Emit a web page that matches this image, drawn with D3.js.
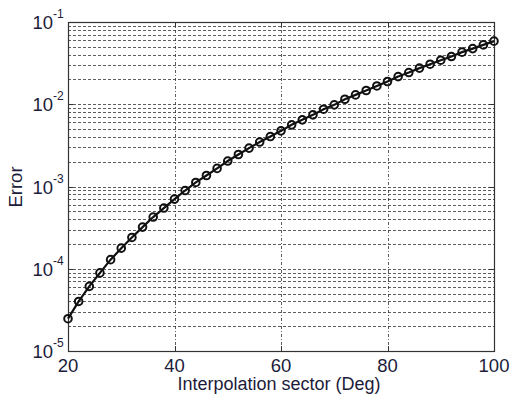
<!DOCTYPE html>
<html>
<head>
<meta charset="utf-8">
<script src="https://cdn.jsdelivr.net/npm/d3@7"></script>
<style>
  body { margin: 0; background: #fff; }
  text { font-family: "Liberation Sans", Arial, sans-serif; fill: #1c1c3a; }
</style>
</head>
<body>
<script>
// angle of the interpolation sector (deg)
var sector = [20, 22, 24, 26, 28, 30, 32, 34, 36, 38, 40, 42, 44, 46, 48, 50, 52, 54, 56, 58, 60,
              62, 64, 66, 68, 70, 72, 74, 76, 78, 80, 82, 84, 86, 88, 90, 92, 94, 96, 98, 100];
// error
var error = [2.47e-5, 4.0e-5, 6.1e-5, 8.9e-5, 1.29e-4, 1.78e-4, 2.40e-4, 3.21e-4, 4.25e-4, 5.47e-4, 7.03e-4,
             8.94e-4, 1.12e-3, 1.36e-3, 1.66e-3, 2.04e-3, 2.45e-3, 2.93e-3, 3.47e-3, 4.05e-3, 4.75e-3,
             5.62e-3, 6.46e-3, 7.43e-3, 8.71e-3, 9.83e-3, 1.15e-2, 1.30e-2, 1.47e-2, 1.67e-2, 1.89e-2,
             2.17e-2, 2.43e-2, 2.75e-2, 3.07e-2, 3.43e-2, 3.80e-2, 4.30e-2, 4.75e-2, 5.27e-2, 5.85e-2];
var xTicks = [20, 40, 60, 80, 100];
var yExps = [-5, -4, -3, -2, -1];

var width = 511, height = 396;
var pLeft = 68, pRight = 494, pTop = 22, pBottom = 351;

var svg = d3.select("body").append("svg")
    .attr("width", width)
    .attr("height", height);

var x = d3.scaleLinear().domain([20, 100]).range([pLeft, pRight]);
var y = d3.scaleLog().domain([1e-5, 1e-1]).range([pBottom, pTop]);

// horizontal grid on every 1..9 x 10^k
var gridY = [];
for (var e = -5; e <= -2; e++) {
    for (var m = 1; m <= 9; m++) {
        var v = m * Math.pow(10, e);
        if (v > 1.01e-5) gridY.push(v);
    }
}

svg.append("g").selectAll("line")
    .data(gridY)
    .enter().append("line")
    .attr("x1", pLeft).attr("x2", pRight)
    .attr("y1", function(d) { return Math.round(y(d)) + 0.5; })
    .attr("y2", function(d) { return Math.round(y(d)) + 0.5; })
    .attr("stroke", "#333")
    .attr("stroke-width", 0.8)
    .attr("stroke-dasharray", "3,2");

svg.append("g").selectAll("line")
    .data([40, 60, 80])
    .enter().append("line")
    .attr("y1", pTop).attr("y2", pBottom)
    .attr("x1", function(d) { return Math.round(x(d)) + 0.5; })
    .attr("x2", function(d) { return Math.round(x(d)) + 0.5; })
    .attr("stroke", "#333")
    .attr("stroke-width", 0.8)
    .attr("stroke-dasharray", "3,2,1,2");

// frame
svg.append("rect")
    .attr("x", pLeft + 0.5).attr("y", pTop + 0.5)
    .attr("width", pRight - pLeft).attr("height", pBottom - pTop)
    .attr("fill", "none")
    .attr("stroke", "#333")
    .attr("stroke-width", 1.2);

// ticks inside on all sides
var tk = 5;
svg.append("g").selectAll("line")
    .data(yExps)
    .enter().append("line")
    .attr("x1", pLeft).attr("x2", pLeft + tk)
    .attr("y1", function(d) { return Math.round(y(Math.pow(10, d))) + 0.5; })
    .attr("y2", function(d) { return Math.round(y(Math.pow(10, d))) + 0.5; })
    .attr("stroke", "#333");
svg.append("g").selectAll("line")
    .data(yExps)
    .enter().append("line")
    .attr("x1", pRight - tk).attr("x2", pRight)
    .attr("y1", function(d) { return Math.round(y(Math.pow(10, d))) + 0.5; })
    .attr("y2", function(d) { return Math.round(y(Math.pow(10, d))) + 0.5; })
    .attr("stroke", "#333");
svg.append("g").selectAll("line")
    .data(xTicks)
    .enter().append("line")
    .attr("x1", function(d) { return Math.round(x(d)) + 0.5; })
    .attr("x2", function(d) { return Math.round(x(d)) + 0.5; })
    .attr("y1", pBottom - tk).attr("y2", pBottom)
    .attr("stroke", "#333");
svg.append("g").selectAll("line")
    .data(xTicks)
    .enter().append("line")
    .attr("x1", function(d) { return Math.round(x(d)) + 0.5; })
    .attr("x2", function(d) { return Math.round(x(d)) + 0.5; })
    .attr("y1", pTop).attr("y2", pTop + tk)
    .attr("stroke", "#333");

// tick labels
svg.append("g").selectAll("text")
    .data(xTicks)
    .enter().append("text")
    .attr("x", function(d) { return x(d); })
    .attr("y", 372)
    .attr("text-anchor", "middle")
    .attr("font-size", 18.5)
    .text(function(d) { return d; });

var yl = svg.append("g").selectAll("g")
    .data(yExps)
    .enter().append("g")
    .attr("transform", function(d) { return "translate(53," + (y(Math.pow(10, d)) + 7) + ")"; });
yl.append("text")
    .attr("text-anchor", "end")
    .attr("font-size", 18.5)
    .text("10");
yl.append("text")
    .attr("x", 0).attr("y", -11)
    .attr("font-size", 12)
    .text(function(d) { return "-" + (-d); });

// axis titles
svg.append("text")
    .attr("x", 279)
    .attr("y", 390)
    .attr("text-anchor", "middle")
    .attr("font-size", 18)
    .text("Interpolation sector (Deg)");

svg.append("text")
    .attr("transform", "translate(22,187) rotate(-90)")
    .attr("text-anchor", "middle")
    .attr("font-size", 18.5)
    .text("Error");

// data
var pts = sector.map(function(d, i) { return [d, error[i]]; });

var line = d3.line()
    .x(function(d) { return x(d[0]); })
    .y(function(d) { return y(d[1]); });

svg.append("path")
    .datum(pts)
    .attr("d", line)
    .attr("fill", "none")
    .attr("stroke", "#111")
    .attr("stroke-width", 2.2);

svg.append("g").selectAll("circle")
    .data(pts)
    .enter().append("circle")
    .attr("cx", function(d) { return x(d[0]); })
    .attr("cy", function(d) { return y(d[1]); })
    .attr("r", 3.8)
    .attr("fill", "none")
    .attr("stroke", "#111")
    .attr("stroke-width", 2);
</script>
</body>
</html>
